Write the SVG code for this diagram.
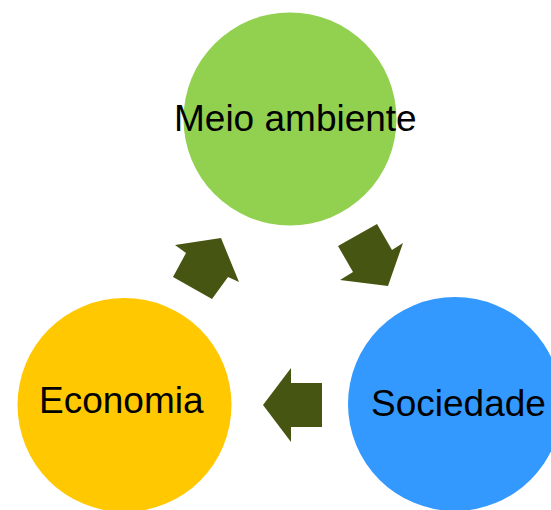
<svg xmlns="http://www.w3.org/2000/svg" width="551" height="510" viewBox="0 0 551 510">
<style>
.lbl{font-family:"Liberation Sans",Arial,sans-serif;font-size:37px;fill:#000}
.arr{fill:#465612}
</style>
<rect width="551" height="510" fill="#fff"/>
<g id="connectors">
<polygon class="arr" points="175,245 221,238 239,282 228,277 212,299 173,277 186,253"/>
<polygon class="arr" points="377,224 338,246 353,272 340,280 388,286 403,243 392,250"/>
<polygon class="arr" points="263,405 291,368 291,383 322,383 322,427 291,427 291,442"/>
</g>
<g id="meio-ambiente">
<circle cx="290" cy="119" r="106.5" fill="#92D050"/>
<text class="lbl" x="174" y="131">Meio ambiente</text>
</g>
<g id="economia">
<circle cx="124.5" cy="405" r="107" fill="#FFC800"/>
<text class="lbl" x="39" y="413">Economia</text>
</g>
<g id="sociedade">
<circle cx="455" cy="404" r="107" fill="#3399FF"/>
<text class="lbl" x="371" y="416">Sociedade</text>
</g>
</svg>
